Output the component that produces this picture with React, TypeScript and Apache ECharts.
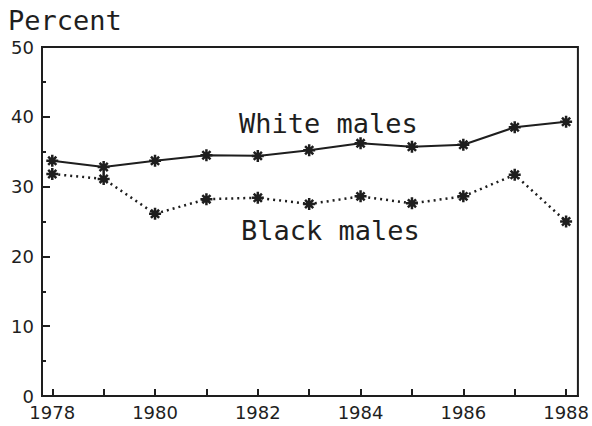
import React, { useEffect, useRef } from "react";
import * as echarts from "echarts";

const years = [1978, 1979, 1980, 1981, 1982, 1983, 1984, 1985, 1986, 1987, 1988];
const whiteMales = [33.7, 32.8, 33.7, 34.5, 34.4, 35.2, 36.2, 35.7, 36.0, 38.5, 39.3];
const blackMales = [31.8, 31.1, 26.1, 28.2, 28.4, 27.5, 28.6, 27.6, 28.6, 31.7, 25.0];
const xLabelYears = [1978, 1980, 1982, 1984, 1986, 1988];

const ink = "#1e1e1e";
const star = "path://M0,5L10,5M5,0L5,10M1.6,1.6L8.4,8.4M8.4,1.6L1.6,8.4";

export default function App() {
  const ref = useRef<HTMLDivElement>(null);
  useEffect(() => {
    if (!ref.current) return;
    const chart = echarts.init(ref.current, null, { renderer: "svg" });
    const tickFont = { fontFamily: "DejaVu Sans", fontSize: 18, color: ink };
    chart.setOption({
      animation: false,
      backgroundColor: "#ffffff",
      title: {
        text: "Percent",
        left: 3,
        top: 2,
        textStyle: { fontFamily: "DejaVu Sans Mono", fontSize: 27, fontWeight: "normal", color: ink },
      },
      grid: {
        left: 42,
        right: 14,
        top: 47,
        bottom: 30,
        show: true,
        borderColor: ink,
        borderWidth: 2,
        backgroundColor: "transparent",
      },
      xAxis: {
        type: "value",
        min: 1977.8,
        max: 1988.23,
        axisLine: { show: true, lineStyle: { color: ink, width: 2 } },
        axisTick: { show: true, inside: true, length: 7, customValues: years, lineStyle: { color: ink, width: 2 } },
        axisLabel: { ...tickFont, margin: 7, customValues: xLabelYears, formatter: (v: number) => String(v) },
        splitLine: { show: false },
      },
      yAxis: {
        type: "value",
        min: 0,
        max: 50,
        interval: 10,
        axisLine: { show: true, lineStyle: { color: ink, width: 2 } },
        axisTick: { show: true, inside: true, length: 8, lineStyle: { color: ink, width: 2 } },
        minorTick: { show: true, splitNumber: 2, length: 4, lineStyle: { color: ink, width: 2 } },
        axisLabel: { ...tickFont, margin: 8 },
        splitLine: { show: false },
      },
      series: [
        {
          name: "White males",
          type: "line",
          data: years.map((y, i) => [y, whiteMales[i]]),
          symbol: star,
          symbolSize: 12,
          lineStyle: { color: ink, width: 2, type: "solid" },
          itemStyle: { color: ink, borderColor: ink, borderWidth: 2.5 },
        },
        {
          name: "Black males",
          type: "line",
          data: years.map((y, i) => [y, blackMales[i]]),
          symbol: star,
          symbolSize: 12,
          lineStyle: { color: ink, width: 2.5, type: [2, 4] },
          itemStyle: { color: ink, borderColor: ink, borderWidth: 2.5 },
        },
      ],
      graphic: [
        {
          type: "text",
          left: 239,
          top: 110,
          style: { text: "White males", fontFamily: "DejaVu Sans Mono", fontSize: 27, fill: ink },
        },
        {
          type: "text",
          left: 241,
          top: 217,
          style: { text: "Black males", fontFamily: "DejaVu Sans Mono", fontSize: 27, fill: ink },
        },
      ],
    });
    return () => chart.dispose();
  }, []);
  return <div ref={ref} style={{ width: 592, height: 426, position: "absolute", left: 0, top: 0 }} />;
}
